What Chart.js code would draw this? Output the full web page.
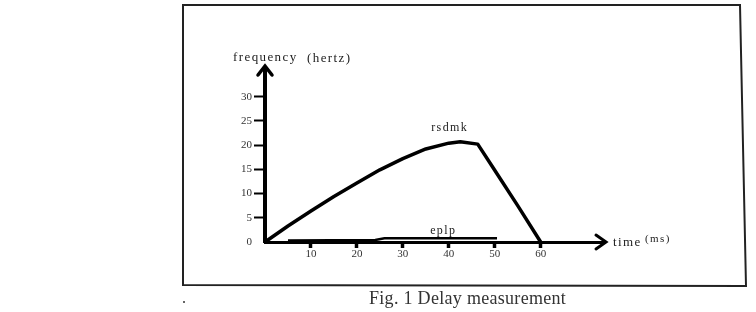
<!DOCTYPE html>
<html>
<head>
<meta charset="utf-8">
<script src="https://cdn.jsdelivr.net/npm/chart.js@4.4.1/dist/chart.umd.min.js"></script>
<style>
	body { margin: 0; background: #fff; width: 756px; height: 312px; overflow: hidden; position: relative; }
	#chart { position: absolute; left: 0; top: 0; }
	#caption { position: absolute; left: 369px; top: 288px; font-family: "Liberation Serif", serif; font-size: 18px; color: #333; letter-spacing: 0.3px; white-space: nowrap; }
	#dot { position: absolute; left: 183px; top: 301px; width: 2px; height: 2px; background: #666; }
</style>
</head>
<body>
<canvas id="chart" width="756" height="312"></canvas>
<div id="caption">Fig. 1 Delay measurement</div>
<div id="dot"></div>
<script>
// values
var rsdmkTime = [0, 5, 10, 15, 20, 25, 30, 35, 40, 42.5, 46.3, 50, 55, 60];
var rsdmkFreq = [0, 3.3, 6.4, 9.4, 12.2, 14.9, 17.2, 19.2, 20.4, 20.7, 20.2, 14.8, 7.5, 0];
var eplpTime = [5, 24, 26, 50.5];
var eplpFreq = [0.3, 0.4, 0.75, 0.75];
var xTicks = [10, 20, 30, 40, 50, 60];
var yTicks = [0, 5, 10, 15, 20, 25, 30];

var serif = '"Liberation Serif", "DejaVu Serif", serif';

function toPoints(xs, ys) {
	return xs.map(function(x, i) { return { x: x, y: ys[i] }; });
}

// frame, arrows and hand written labels
var sketchPlugin = {
	id: 'sketch',
	beforeDraw: function(chart) {
		var ctx = chart.ctx;
		ctx.save();
		ctx.strokeStyle = '#222';
		ctx.lineWidth = 2;
		ctx.beginPath();
		ctx.moveTo(183, 5);
		ctx.lineTo(740, 5);
		ctx.lineTo(746, 286);
		ctx.lineTo(183, 285);
		ctx.closePath();
		ctx.stroke();
		ctx.restore();
	},
	afterDraw: function(chart) {
		var ctx = chart.ctx;
		var a = chart.chartArea;
		var xs = chart.scales.x, ys = chart.scales.y;
		ctx.save();
		ctx.strokeStyle = '#000';
		ctx.lineWidth = 3.5;
		ctx.lineCap = 'round';
		// y arrow
		ctx.beginPath();
		ctx.moveTo(a.left, a.top);
		ctx.lineTo(a.left, a.top - 4);
		ctx.moveTo(a.left - 7, a.top + 5);
		ctx.lineTo(a.left, a.top - 4);
		ctx.lineTo(a.left + 7, a.top + 5);
		ctx.stroke();
		// x arrow
		ctx.lineWidth = 3;
		ctx.beginPath();
		ctx.moveTo(a.right - 9, a.bottom - 7);
		ctx.lineTo(a.right + 1, a.bottom);
		ctx.lineTo(a.right - 9, a.bottom + 7);
		ctx.stroke();

		ctx.fillStyle = '#222';
		ctx.textBaseline = 'middle';
		if ('letterSpacing' in ctx) ctx.letterSpacing = '1.4px';
		ctx.font = '13px ' + serif;
		ctx.textAlign = 'left';
		ctx.fillText('frequency', 233, 58);
		ctx.fillText('(hertz)', 307, 59);
		ctx.fillText('time', 613, 243);
		ctx.font = '11px ' + serif;
		ctx.fillText('(ms)', 645, 239);

		ctx.textAlign = 'center';
		ctx.font = '12px ' + serif;
		ctx.fillText('rsdmk', xs.getPixelForValue(40.2), ys.getPixelForValue(23.6));
		ctx.fillText('eplp', xs.getPixelForValue(38.8), ys.getPixelForValue(2.3));
		ctx.restore();
	}
};

new Chart(document.getElementById('chart').getContext('2d'), {
	type: 'scatter',
	data: {
		datasets: [{
			label: 'rsdmk',
			data: toPoints(rsdmkTime, rsdmkFreq),
			showLine: true,
			borderColor: '#000',
			borderWidth: 3.5,
			borderJoinStyle: 'round',
			tension: 0,
			pointRadius: 0,
			clip: false
		}, {
			label: 'eplp',
			data: toPoints(eplpTime, eplpFreq),
			showLine: true,
			borderColor: '#000',
			borderWidth: 2.5,
			tension: 0,
			pointRadius: 0,
			clip: false
		}]
	},
	options: {
		responsive: false,
		animation: false,
		layout: { padding: { left: 225, right: 151, top: 70, bottom: 40 } },
		plugins: {
			legend: { display: false },
			tooltip: { enabled: false }
		},
		scales: {
			x: {
				type: 'linear',
				min: 0,
				max: 74,
				afterFit: function(s) { s.height = 30; },
				afterBuildTicks: function(s) { s.ticks = xTicks.map(function(v) { return { value: v }; }); },
				border: { display: true, color: '#000', width: 3 },
				grid: { drawOnChartArea: false, drawTicks: true, tickLength: 6, tickWidth: 3.5, color: '#000' },
				ticks: { padding: 0, color: '#333', font: { family: serif, size: 11 }, maxRotation: 0 }
			},
			y: {
				type: 'linear',
				min: 0,
				max: 35.5,
				afterFit: function(s) { s.width = 40; },
				afterBuildTicks: function(s) { s.ticks = yTicks.map(function(v) { return { value: v }; }); },
				border: { display: true, color: '#000', width: 4 },
				grid: {
					drawOnChartArea: false,
					drawTicks: true,
					tickLength: 11,
					tickWidth: 2,
					color: '#000',
					tickColor: function(c) { return c.tick && c.tick.value === 0 ? 'rgba(0,0,0,0)' : '#000'; }
				},
				ticks: { padding: 2, color: '#333', font: { family: serif, size: 11 } }
			}
		}
	},
	plugins: [sketchPlugin]
});
</script>
</body>
</html>
